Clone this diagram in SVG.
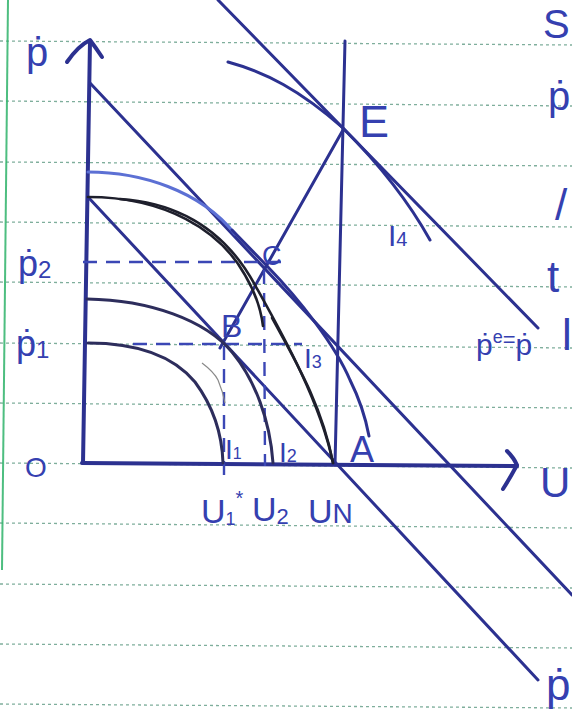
<svg xmlns="http://www.w3.org/2000/svg" width="572" height="720" viewBox="0 0 572 720">
<style>
.rule{stroke:#7fae9c;stroke-width:1.3;stroke-dasharray:3 3;fill:none}
.ink{stroke:#2c3190;stroke-width:3;fill:none;stroke-linecap:round;stroke-linejoin:round}
.axis{stroke:#2c3190;stroke-width:4;fill:none;stroke-linecap:round;stroke-linejoin:round}
.light{stroke:#5c70d4;stroke-width:3;fill:none;stroke-linecap:round}
.dark{stroke:#2d2d5c;stroke-width:3;fill:none;stroke-linecap:round}
.blk{stroke:#1e1f2c;stroke-width:2.6;fill:none;stroke-linecap:round}
.dash{stroke:#3b47b5;stroke-width:2.4;fill:none;stroke-dasharray:14 9}
.lbl{font-family:"Liberation Sans","DejaVu Sans",sans-serif;fill:#3540b0}
</style>
<rect width="572" height="720" fill="#ffffff"/>
<g id="paper">
<line class="rule" x1="0" y1="41" x2="572" y2="45"/>
<line class="rule" x1="0" y1="101" x2="572" y2="106"/>
<line class="rule" x1="0" y1="162" x2="572" y2="166"/>
<line class="rule" x1="0" y1="222" x2="572" y2="227"/>
<line class="rule" x1="0" y1="282" x2="572" y2="287"/>
<line class="rule" x1="0" y1="343" x2="572" y2="348"/>
<line class="rule" x1="0" y1="403" x2="572" y2="408"/>
<line class="rule" x1="0" y1="463" x2="572" y2="468"/>
<line class="rule" x1="0" y1="523" x2="572" y2="528"/>
<line class="rule" x1="0" y1="584" x2="572" y2="588"/>
<line class="rule" x1="0" y1="644" x2="572" y2="648"/>
<line class="rule" x1="0" y1="704" x2="572" y2="708"/>
<line x1="8" y1="0" x2="2" y2="570" stroke="#2fb36a" stroke-width="2" opacity="0.85"/>
</g>
<g id="axes">
<path class="axis" d="M90,41 L83,463"/>
<path class="axis" d="M67,62 Q78,46 90,40 Q96,48 102,57"/>
<path class="axis" d="M82,463 L517,466"/>
<path class="axis" d="M507,451 Q514,458 517,465 Q510,478 503,489"/>
</g>
<g id="connectors">
<path class="ink" d="M345,41 L335,465"/>
<path class="ink" d="M218,0 L538,328"/>
<path class="ink" d="M90,83 L572,595"/>
<path class="ink" d="M88,197 L538,680"/>
<path class="ink" d="M220,348 L343,130"/>
<path class="dash" d="M83,262 L282,262"/>
<path class="dash" d="M133,344 L302,344"/>
<path class="dash" d="M224,346 L224,480"/>
<path class="dash" d="M264,270 L265,466"/>
</g>
<g id="curve-I1"><path class="dark" d="M88,343 C130,343 170,352 195,382 C212,405 222,430 223,463"/></g>
<g id="curve-I2"><path class="dark" d="M87,299 C150,300 205,320 232,352 C255,380 270,420 273,463"/></g>
<g id="curve-I3">
<path class="blk" d="M88,197 C165,197 220,230 245,275 C255,292 261,310 263,326"/>
<path class="blk" d="M120,199 C180,203 225,230 255,285 C280,330 320,400 333,463"/>
<path class="blk" d="M272,318 C295,360 322,405 333,463"/>
</g>
<g id="curve-top">
<path class="light" d="M88,172 C140,172 200,190 235,234"/>
<path class="ink" stroke-width="4" d="M232,230 L267,266 C300,300 335,345 350,380 C360,400 366,420 369,436"/>
</g>
<g id="curve-I4"><path class="ink" d="M228,62 C265,72 300,90 343,128 C375,160 405,195 430,240"/></g>
<path d="M202,363 Q214,372 218,380 Q223,392 225,403" stroke="#8a8a8a" stroke-width="1.2" fill="none"/>
<g id="labels" class="lbl">
<text x="26" y="66" font-size="40">ṗ</text>
<text x="18" y="276" font-size="36">ṗ<tspan font-size="24" dy="2">2</tspan></text>
<text x="16" y="356" font-size="36">ṗ<tspan font-size="24" dy="2">1</tspan></text>
<text x="25" y="477" font-size="28">O</text>
<text x="359" y="137" font-size="45">E</text>
<text x="262" y="265" font-size="27">C</text>
<text x="221" y="337" font-size="32">B</text>
<text x="350" y="462" font-size="36">A</text>
<text x="225" y="459" font-size="28">I<tspan font-size="16">1</tspan></text>
<text x="279" y="462" font-size="28">I<tspan font-size="18">2</tspan></text>
<text x="304" y="368" font-size="28">I<tspan font-size="18">3</tspan></text>
<text x="388" y="246" font-size="30">I<tspan font-size="20">4</tspan></text>
<text x="476" y="355" font-size="30">ṗ<tspan font-size="18" dy="-12">e</tspan><tspan font-size="22" dy="4">=</tspan><tspan font-size="30" dy="8">ṗ</tspan></text>
<text x="201" y="523" font-size="34">U<tspan font-size="18" dy="2">1</tspan><tspan font-size="20" dy="-20">*</tspan></text>
<text x="252" y="521" font-size="34">U<tspan font-size="22" dy="3">2</tspan></text>
<text x="308" y="523" font-size="34">U<tspan font-size="28">N</tspan></text>
<text x="540" y="497" font-size="42">U</text>
<text x="546" y="700" font-size="44">ṗ</text>
<text x="543" y="38" font-size="40">S</text>
<text x="548" y="110" font-size="40">ṗ</text>
<text x="555" y="220" font-size="44">/</text>
<text x="547" y="292" font-size="44">t</text>
<text x="562" y="350" font-size="44">l</text>
</g>
</svg>
